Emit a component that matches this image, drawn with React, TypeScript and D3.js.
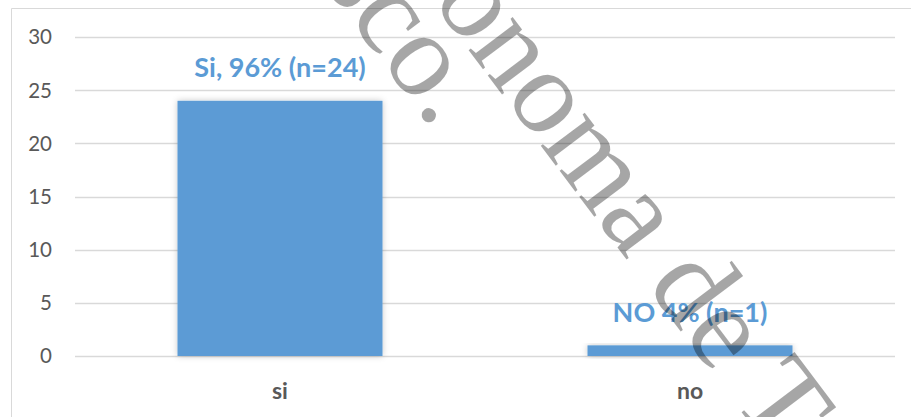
import React from "react";
import * as d3 from "d3";

const categories = ["si", "no"];
const values = [24, 1];
const dataLabels = ["Si, 96% (n=24)", "NO 4% (n=1)"];
const yTicks = [0, 5, 10, 15, 20, 25, 30];
const watermarkLines = ["ónoma de Tabasco", "Tabasco."];

const W = 911;
const H = 417;
const margin = { left: 75, right: 16, top: 37, bottom: 61 };

export default function App() {
  const x = d3
    .scaleBand<string>()
    .domain(categories)
    .range([margin.left, W - margin.right])
    .paddingInner(0.5)
    .paddingOuter(0.25);
  const y = d3
    .scaleLinear()
    .domain([0, 30])
    .range([H - margin.bottom, margin.top]);

  const blue = "#5B9BD5";
  const gray = "#595959";
  const font = "Lato, 'Open Sans', sans-serif";
  const angle = 53;

  return (
    <div style={{ position: "fixed", left: 0, top: 0, width: W, height: H, background: "#fff" }}>
      <svg width={W} height={H} style={{ display: "block" }}>
        <defs>
          <filter id="shadow" x="-20%" y="-20%" width="140%" height="140%">
            <feDropShadow dx="0" dy="0" stdDeviation="3" floodColor="#000" floodOpacity="0.22" />
          </filter>
        </defs>
        <rect x={0} y={0} width={W} height={H} fill="#fff" />
        <line x1={11.5} y1={8.5} x2={W + 5} y2={8.5} stroke="#D9D9D9" strokeWidth={1} />
        <line x1={11.5} y1={8.5} x2={11.5} y2={H + 5} stroke="#D9D9D9" strokeWidth={1} />

        {yTicks.map((t) => (
          <line
            key={t}
            x1={margin.left}
            x2={W - margin.right}
            y1={Math.round(y(t)) + 0.5}
            y2={Math.round(y(t)) + 0.5}
            stroke="#D9D9D9"
            strokeWidth={1.3}
          />
        ))}
        {yTicks.map((t) => (
          <text
            key={"l" + t}
            x={52}
            y={y(t)}
            dy="0.36em"
            textAnchor="end"
            fontFamily={font}
            fontSize={20.5}
            fill={gray}
          >
            {t}
          </text>
        ))}

        {categories.map((c, i) => (
          <rect
            key={c}
            x={x(c)}
            y={y(values[i])}
            width={x.bandwidth()}
            height={y(0) - y(values[i])}
            fill={blue}
            filter="url(#shadow)"
          />
        ))}

        {categories.map((c, i) => (
          <text
            key={"d" + c}
            x={(x(c) as number) + x.bandwidth() / 2}
            y={y(values[i]) - 23.5}
            textAnchor="middle"
            fontFamily={font}
            fontWeight="bold"
            fontSize={27}
            fill={blue}
          >
            {dataLabels[i]}
          </text>
        ))}

        {categories.map((c) => (
          <text
            key={"c" + c}
            x={(x(c) as number) + x.bandwidth() / 2}
            y={399}
            textAnchor="middle"
            fontFamily={font}
            fontWeight="bold"
            fontSize={23}
            fill={gray}
          >
            {c}
          </text>
        ))}

        <g fill="#000" fillOpacity={0.35} fontFamily="'Liberation Serif', 'Times New Roman', serif" fontSize={120}>
          <text transform={`translate(431,0) rotate(${angle})`}>{watermarkLines[0]}</text>
          <text transform={`translate(180,-206) rotate(${angle})`}>{watermarkLines[1]}</text>
        </g>
      </svg>
    </div>
  );
}
